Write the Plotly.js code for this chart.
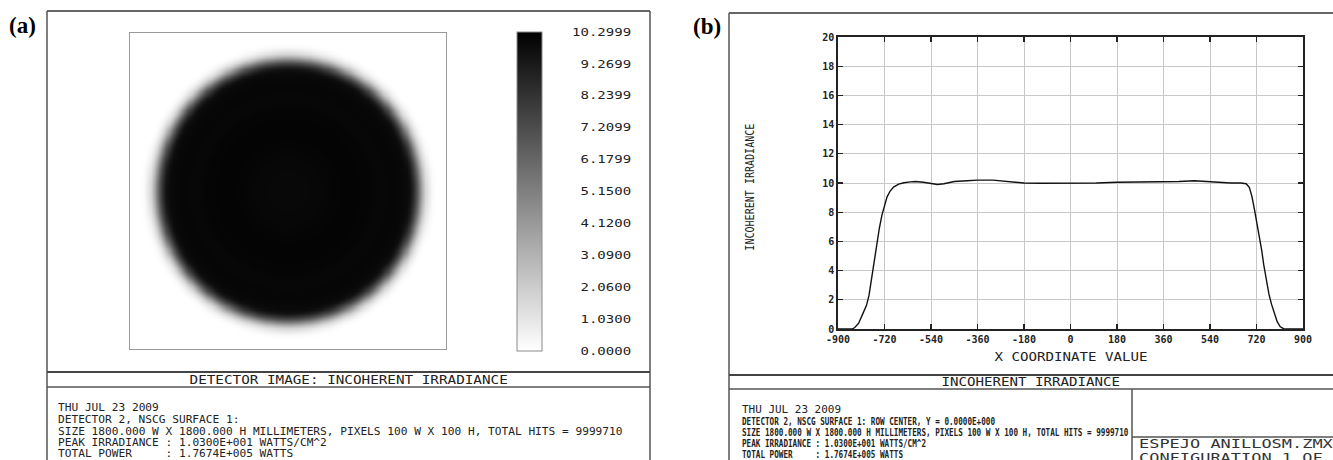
<!DOCTYPE html>
<html><head><meta charset="utf-8">
<script src="https://cdn.plot.ly/plotly-3.0.1.min.js"></script>
<style>html,body{margin:0;padding:0;background:#fff}#chart{width:1333px;height:460px}</style>
</head><body><div id="chart"></div><script>
// ---- data ----
const profileX = [-900,-845,-835,-820,-805,-790,-780,-772,-765,-757,-749,-740,-730,-720,-710,-698,-685,-665,-645,-620,-600,-570,-540,-515,-490,-450,-400,-360,-300,-260,-220,-180,-120,-60,0,40,100,180,240,300,360,420,480,520,560,620,660,680,692,702,712,722,732,740,748,758,768,778,790,800,812,825,840,900];
const profileY = [0,0,0.1,0.4,1.0,1.6,2.3,3.2,4.1,5.0,6.0,6.9,7.8,8.5,9.05,9.45,9.72,9.92,10.02,10.08,10.1,10.05,9.95,9.9,9.95,10.1,10.15,10.2,10.2,10.15,10.05,10.0,9.98,9.98,9.98,10.0,10.0,10.05,10.05,10.05,10.1,10.1,10.15,10.1,10.05,10.0,10.0,9.95,9.7,9.1,8.2,7.2,6.4,5.4,4.4,3.3,2.4,1.7,1.0,0.5,0.15,0.02,0,0];
const colorbarTickVals = [0,1.03,2.06,3.09,4.12,5.15,6.1799,7.2099,8.2399,9.2699,10.2999];
const colorbarTickText = ['0.0000','1.0300','2.0600','3.0900','4.1200','5.1500','6.1799','7.2099','8.2399','9.2699','10.2999'];
const xTickVals = [-900,-720,-540,-360,-180,0,180,360,540,720,900];
const xTickText = ['-900','-720','-540','-360','-180','0','180','360','540','720','900'];
const yTickVals = [0,2,4,6,8,10,12,14,16,18,20];
const yTickText = ['0','2','4','6','8','10','12','14','16','18','20'];
const detectorSize = 1800;   // mm
const detectorPixels = 100;
const peakIrr = 10.2999;
const infoLinesA = ['THU JUL 23 2009','DETECTOR 2, NSCG SURFACE 1:','SIZE 1800.000 W X 1800.000 H MILLIMETERS, PIXELS 100 W X 100 H, TOTAL HITS = 9999710','PEAK IRRADIANCE : 1.0300E+001 WATTS/CM^2','TOTAL POWER     : 1.7674E+005 WATTS'];
const infoLinesB = ['THU JUL 23 2009','DETECTOR 2, NSCG SURFACE 1: ROW CENTER, Y = 0.0000E+000','SIZE 1800.000 W X 1800.000 H MILLIMETERS, PIXELS 100 W X 100 H, TOTAL HITS = 9999710','PEAK IRRADIANCE : 1.0300E+001 WATTS/CM^2','TOTAL POWER     : 1.7674E+005 WATTS'];
const titleA = 'DETECTOR IMAGE: INCOHERENT IRRADIANCE';
const titleB = 'INCOHERENT IRRADIANCE';
const xTitleB = 'X COORDINATE VALUE';
const yTitleB = 'INCOHERENT IRRADIANCE';
const fileLines = ['ESPEJO ANILLOSM.ZMX','CONFIGURATION 1 OF 1'];

// ---- derived tables ----
function profileAt(x){
  for(let i=0;i<profileX.length-1;i++){
    if(x>=profileX[i] && x<=profileX[i+1]){
      const t=(x-profileX[i])/(profileX[i+1]-profileX[i]);
      return profileY[i]+t*(profileY[i+1]-profileY[i]);
    }
  }
  return 0;
}
const step = detectorSize/detectorPixels;
const centers = [];
for(let k=0;k<detectorPixels;k++) centers.push(-detectorSize/2+step/2+k*step);
const zImg = centers.map(yy=>centers.map(xx=>{
  const r=Math.sqrt(xx*xx+yy*yy);
  return 0.5*(profileAt(-r)+profileAt(r));
}));

const W=1333,H=460;
const px=v=>v/W, py=v=>1-v/H;
const mono='DejaVu Sans Mono';
const nb=s=>s.replace(/ /g,'\u00A0');

const traces=[
 {type:'heatmap',x:centers,y:centers,z:zImg,zmin:0,zmax:peakIrr,zsmooth:'best',
  colorscale:[[0,'#ffffff'],[1,'#000000']],hoverinfo:'skip',xaxis:'x',yaxis:'y',
  colorbar:{x:px(517),xanchor:'left',xpad:0,ypad:0,thickness:25,thicknessmode:'pixels',
    len:319,lenmode:'pixels',y:py(351),yanchor:'bottom',outlinewidth:1,outlinecolor:'#8a8a8a',
    tickvals:colorbarTickVals,ticktext:colorbarTickText.map(t=>t.length<7?'\u2007'+t:t),
    ticks:'outside',ticklen:28,tickcolor:'rgba(0,0,0,0)',tickfont:{family:mono,size:10.5,color:'#222'}}},
 {type:'scatter',mode:'lines',x:profileX,y:profileY,xaxis:'x2',yaxis:'y2',
  line:{color:'#111',width:1.4},hoverinfo:'skip',showlegend:false}
];

const lineC='#555';
const shapes=[];
function L(x0,y0,x1,y1,w,c){shapes.push({type:'line',xref:'paper',yref:'paper',x0:px(x0),y0:py(y0),x1:px(x1),y1:py(y1),line:{color:c||lineC,width:w||1.5}});}
// panel a frame
L(47,11,650,11,1.5,'#333');L(47,11,47,470);L(650,11,650,470);
L(47,372,650,372,2.2,'#444');L(47,387,650,387,1.5);
// panel b frame
L(729,13,1340,13,1.5,'#333');L(729,13,729,470);
L(729,375,1340,375,2.2,'#444');L(729,389,1340,389,1.5);
L(1132,389,1132,470,1.5);L(1132,437,1340,437,1.5);

const ann=[];
const fit=[]; // [annotation index, text width in px]
function A(text,x,y,o,fw){
  ann.push(Object.assign({text:text,xref:'paper',yref:'paper',x:px(x),y:py(y),showarrow:false,xanchor:'center',yanchor:'middle',font:{family:mono,size:10,color:'#222'}},o||{}));
  if(fw) fit.push([ann.length-1,fw]);
}
A('<b>(a)</b>',22,25,{font:{family:'Liberation Serif',size:23,color:'#000'}});
A('<b>(b)</b>',707,26,{font:{family:'Liberation Serif',size:23,color:'#000'}});
A(nb(titleA),348,380,{font:{family:mono,size:12,color:'#222'}},titleA.length*8.6);
A(nb(titleB),1031,382,{font:{family:mono,size:12,color:'#222'}},titleB.length*8.5);
const rowsA=[407,419,431,442,453];
infoLinesA.forEach((t,i)=>A(nb(t),56,rowsA[i],{xanchor:'left',align:'left',font:{family:mono,size:10.2,color:'#222'}},t.length*6.72));
const rowsB=[409,421,432,443,453.5];
infoLinesB.forEach((t,i)=>A(nb(t),740,rowsB[i],{xanchor:'left',align:'left',font:i===0?{family:mono,size:10.2,color:'#222'}:{family:mono,size:10.5,color:'#222',weight:700}},i===0?t.length*6.6:t.length*4.6));
A(nb(fileLines[0]),1137,444,{xanchor:'left',align:'left',font:{family:mono,size:11.5,color:'#333'}},fileLines[0].length*10.2);
A(nb(fileLines[1]),1137,458,{xanchor:'left',align:'left',font:{family:mono,size:11.5,color:'#333'}},fileLines[1].length*10.2);
A(nb(xTitleB),1070.5,357,{font:{family:mono,size:12,color:'#222'}},xTitleB.length*8.5);
A(nb(yTitleB),750,187,{textangle:-90,font:{family:mono,size:12,color:'#222'}},127);

const axA={showgrid:false,zeroline:false,showticklabels:false,ticks:'',showline:true,mirror:true,linecolor:'#999',linewidth:1,range:[-detectorSize/2,detectorSize/2],fixedrange:true};
const tickF={family:mono,size:10,color:'#222',weight:700};
const layout={
 width:W,height:H,margin:{l:0,r:0,t:0,b:0},paper_bgcolor:'#fff',plot_bgcolor:'#fff',showlegend:false,
 xaxis:Object.assign({domain:[px(130),px(446)],anchor:'y'},axA),
 yaxis:Object.assign({domain:[py(349),py(33)],anchor:'x'},axA),
 xaxis2:{domain:[px(838),px(1303)],anchor:'y2',range:[-900,900],tickvals:xTickVals,ticktext:xTickText,
   showgrid:true,gridcolor:'#c8c8c8',gridwidth:1,zeroline:false,ticks:'inside',ticklen:5,tickwidth:1.3,tickcolor:'#222',
   showline:true,linecolor:'#222',linewidth:1.6,mirror:'ticks',tickfont:tickF},
 yaxis2:{domain:[py(329),py(37)],anchor:'x2',range:[0,20],tickvals:yTickVals,ticktext:yTickText,
   showgrid:true,gridcolor:'#c8c8c8',gridwidth:1,zeroline:false,ticks:'inside',ticklen:5,tickwidth:1.3,tickcolor:'#222',
   showline:true,linecolor:'#222',linewidth:1.6,mirror:'ticks',tickfont:tickF},
 shapes:shapes,annotations:ann
};
Plotly.newPlot('chart',traces,layout,{staticPlot:true,displayModeBar:false}).then(gd=>{
  fit.forEach(([i,w])=>{
    const el=gd.querySelector('g.annotation[data-index="'+i+'"] text.annotation-text');
    if(el){el.setAttribute('textLength',w.toFixed(1));el.setAttribute('lengthAdjust','spacingAndGlyphs');}
  });
  gd.querySelectorAll('.colorbar text').forEach(el=>{
    if(/\d\.\d{4}/.test(el.textContent)){el.setAttribute('textLength',(7*8.43).toFixed(1));el.setAttribute('lengthAdjust','spacingAndGlyphs');}
  });
});
</script></body></html>
